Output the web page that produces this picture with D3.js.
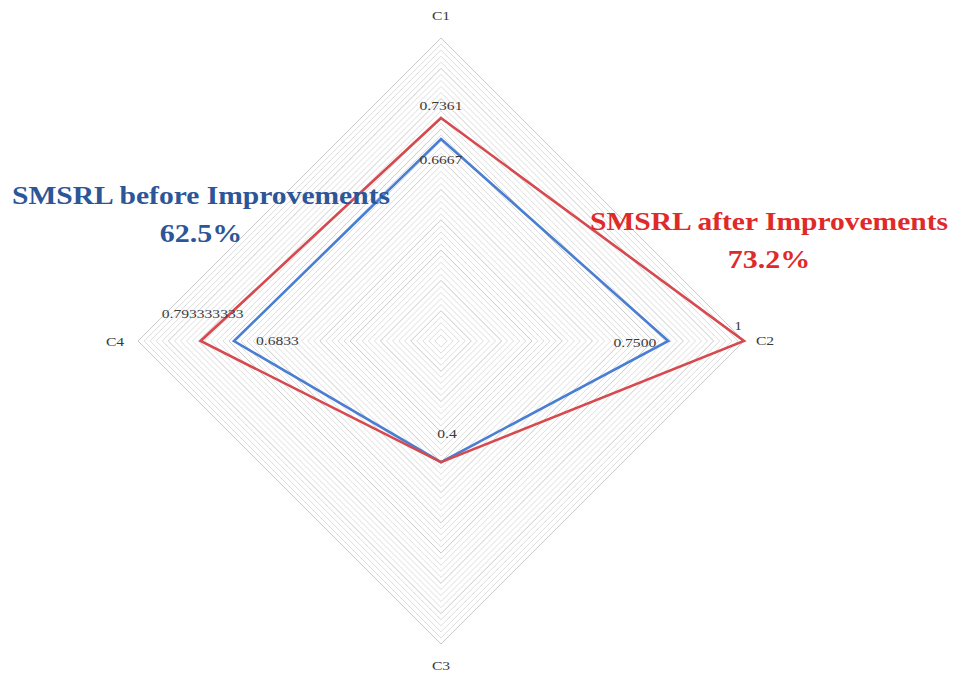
<!DOCTYPE html>
<html>
<head>
<meta charset="utf-8">
<script src="https://cdn.jsdelivr.net/npm/d3@7"></script>
<style>
  body { margin: 0; background: #fff; }
  svg { display: block; }
</style>
</head>
<body>
<script>
// DATA
const categories = ["C1", "C2", "C3", "C4"];
const beforeValues = [0.6667, 0.75, 0.4, 0.6833];
const afterValues = [0.7361, 1, 0.4, 0.793333333];
const beforeLabels = ["0.6667", "0.7500", "", "0.6833"];
const afterLabels = ["0.7361", "1", "0.4", "0.793333333"];
const gridSteps = d3.range(1, 51).map(i => i / 50);

// SIZES
const svgwidth = 960;
const svgheight = 679;
const cx = 441, cy = 341;
const R = 303;
const stretch = 1.2; // the source text is a bit wide

const r = d3.scaleLinear().domain([0, 1]).range([0, R]);
const angle = d3.scalePoint().domain(categories).range([0, 2 * Math.PI * 3 / 4]);

const svg = d3.select("body").append("svg")
  .attr("width", svgwidth)
  .attr("height", svgheight);

const g = svg.append("g").attr("transform", `translate(${cx},${cy})`);

const radial = d3.lineRadial()
  .angle((d, i) => angle(categories[i]))
  .radius(d => r(d))
  .curve(d3.curveLinearClosed);

// GRID
g.selectAll(".grid").data(gridSteps).enter().append("path")
  .attr("class", "grid")
  .attr("d", d => radial(categories.map(() => d)))
  .attr("fill", "none")
  .attr("stroke", (d, i) => (i + 1) % 5 === 0 ? "#c9c9c9" : "#dedede")
  .attr("stroke-width", 1);

// point in x,y from value and category
const pt = (v, i) => {
  const a = angle(categories[i]);
  return [Math.sin(a) * r(v), -Math.cos(a) * r(v)];
};

// SERIES
g.append("path").attr("d", radial(beforeValues))
  .attr("fill", "none").attr("stroke", "#4a7ed2").attr("stroke-width", 2.6)
  .attr("stroke-linejoin", "miter");
g.append("path").attr("d", radial(afterValues))
  .attr("fill", "none").attr("stroke", "#d6494e").attr("stroke-width", 2.6)
  .attr("stroke-linejoin", "miter");

const label = (x, y, txt, anchor, size) => {
  g.append("text")
    .attr("transform", `translate(${x},${y}) scale(${stretch},1)`)
    .attr("text-anchor", anchor)
    .attr("font-family", "Liberation Serif, serif")
    .attr("font-size", size)
    .attr("fill", "#3a3a3a")
    .text(txt);
};

// AXIS LABELS
const catOffset = [[0, -321], [324, 4], [0, 329], [-326, 5]];
categories.forEach((c, i) => label(catOffset[i][0], catOffset[i][1], c, "middle", 13));

// VALUE LABELS
const afterOff = [[0, -8, "middle"], [-2, -11, "end"], [6, -24, "middle"], [2, -23, "middle"]];
const beforeOff = [[0, 25, "middle"], [-12, 6, "end"], [0, 0, "middle"], [22, 4, "start"]];
afterLabels.forEach((l, i) => {
  if (!l) return;
  const p = pt(afterValues[i], i);
  label(p[0] + afterOff[i][0], p[1] + afterOff[i][1], l, afterOff[i][2], 13);
});
beforeLabels.forEach((l, i) => {
  if (!l) return;
  const p = pt(beforeValues[i], i);
  label(p[0] + beforeOff[i][0], p[1] + beforeOff[i][1], l, beforeOff[i][2], 13);
});

// TITLES
const titles = [
  { lines: ["SMSRL before Improvements", "62.5%"], x: 201, y: 204, w: 378, color: "#2c5697" },
  { lines: ["SMSRL after Improvements", "73.2%"], x: 769, y: 230, w: 358, color: "#e02a2a" }
];
titles.forEach(t => {
  t.lines.forEach((l, i) => {
    const txt = svg.append("text")
      .attr("x", t.x).attr("y", t.y + i * 38)
      .attr("text-anchor", "middle")
      .attr("font-family", "Liberation Serif, serif")
      .attr("font-weight", "bold")
      .attr("font-size", 25)
      .attr("fill", t.color)
      .text(l);
    if (i === 0) txt.attr("textLength", t.w).attr("lengthAdjust", "spacingAndGlyphs");
    else txt.attr("transform", `translate(${t.x},0) scale(${stretch},1) translate(${-t.x},0)`);
  });
});
</script>
</body>
</html>
